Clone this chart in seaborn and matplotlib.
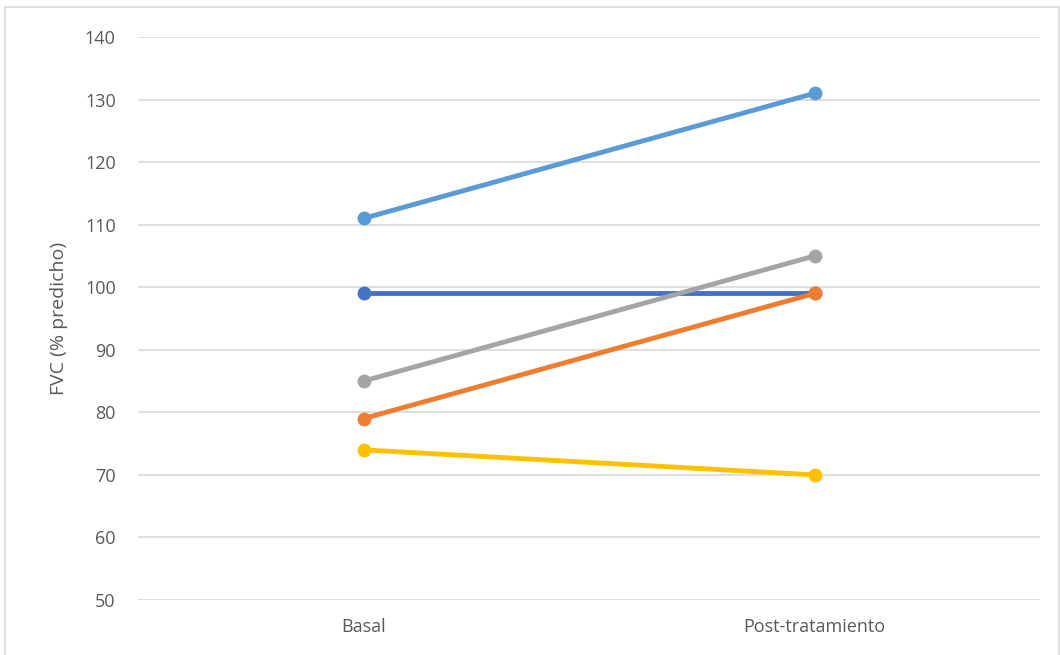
import matplotlib
matplotlib.use("Agg")
import matplotlib.pyplot as plt
import seaborn as sns
import pandas as pd
from matplotlib.patches import Rectangle

categories = ["Basal", "Post-tratamiento"]
s1 = [99, 99]
s2 = [79, 99]
s3 = [85, 105]
s4 = [74, 70]
s5 = [111, 131]
series_names = ["P1", "P2", "P3", "P4", "P5"]
colors = ["#4472C4", "#ED7D31", "#A5A5A5", "#FFC000", "#5B9BD5"]
yticks = [50, 60, 70, 80, 90, 100, 110, 120, 130, 140]

rows = []
for name, vals in zip(series_names, [s1, s2, s3, s4, s5]):
    for c, v in zip(categories, vals):
        rows.append({"cat": c, "val": v, "serie": name})
df = pd.DataFrame(rows)

sns.set_theme(style="white")
plt.rcParams["font.family"] = ["Open Sans", "DejaVu Sans"]

fig = plt.figure(figsize=(10.6, 6.55), dpi=100)
ax = fig.add_axes([138/1060, 1-600/655, (1040-138)/1060, (600-37)/655])

fig.patches.append(Rectangle((5/1060, -0.01), 1054/1060, 1-7/655+0.01,
                             transform=fig.transFigure, fill=False,
                             edgecolor="#D9D9D9", linewidth=1.2))

for name, col in zip(series_names, colors):
    sub = df[df["serie"] == name]
    sns.lineplot(data=sub, x="cat", y="val", ax=ax, color=col, linewidth=3.5,
                 marker="o", markersize=10, markeredgewidth=0, legend=False,
                 sort=False)

ax.set_xlim(-0.5, 1.5)
ax.set_ylim(50, 140)
ax.set_yticks(yticks)
ax.yaxis.grid(True, color="#D9D9D9", linewidth=1.2)
ax.set_axisbelow(True)
for sp in ax.spines.values():
    sp.set_visible(False)
ax.tick_params(axis="both", length=0, labelsize=13, colors="#595959")
ax.tick_params(axis="y", pad=16)
ax.tick_params(axis="x", pad=13)
ax.set_xlabel("")
ax.set_ylabel("FVC (% predicho)", fontsize=14, color="#595959", labelpad=12)

fig.savefig("out.png", dpi=100)
